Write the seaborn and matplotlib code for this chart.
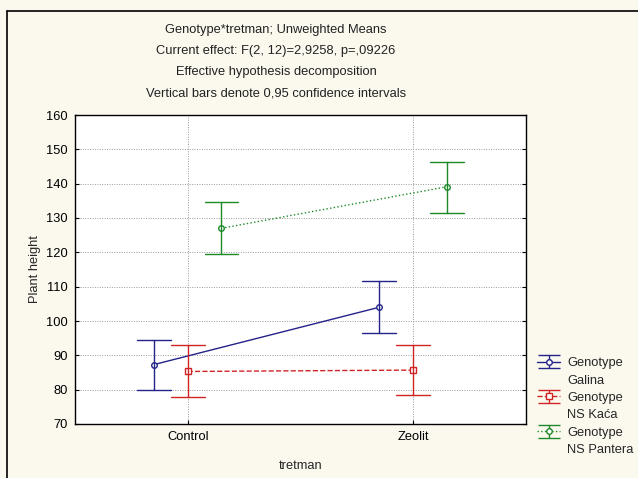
import numpy as np
import pandas as pd
import seaborn as sns
import matplotlib.pyplot as plt
from matplotlib.lines import Line2D
from matplotlib.legend_handler import HandlerErrorbar

treatments = ["Control", "Zeolit"]
genotypes = ["Galina", "NS Kaća", "NS Pantera"]

# means and 0.95 CI limits
galina_mean = [87.3, 104.0]
galina_lo = [79.8, 96.4]
galina_hi = [94.6, 111.7]
kaca_mean = [85.3, 85.7]
kaca_lo = [77.9, 78.4]
kaca_hi = [93.1, 93.1]
pantera_mean = [127.0, 139.1]
pantera_lo = [119.4, 131.4]
pantera_hi = [134.7, 146.3]

colors = ["#23238a", "#d02424", "#1d8a2a"]
markers = ["o", "s", "o"]
linestyles = ["-", "--", ":"]
bg = "#fbf8ee"
fs = 9.3

means = {"Galina": galina_mean, "NS Kaća": kaca_mean, "NS Pantera": pantera_mean}
lows = {"Galina": galina_lo, "NS Kaća": kaca_lo, "NS Pantera": pantera_lo}
highs = {"Galina": galina_hi, "NS Kaća": kaca_hi, "NS Pantera": pantera_hi}

# three rows per cell (low, mean, high): median gives the mean, min/max the CI
rows = []
for g in genotypes:
    for i, t in enumerate(treatments):
        for v in (lows[g][i], means[g][i], highs[g][i]):
            rows.append({"Genotype": g, "tretman": t, "Plant height": v})
df = pd.DataFrame(rows)

sns.set_style("white")
plt.rcParams["font.family"] = ["Liberation Sans", "DejaVu Sans"]

fig = plt.figure(figsize=(6.38, 4.78), dpi=100, facecolor=bg)
ax = fig.add_axes([75 / 638, 1 - 424 / 478, 450.7 / 638, 309 / 478])
ax.set_facecolor("white")

sns.pointplot(data=df, x="tretman", y="Plant height", hue="Genotype",
              hue_order=genotypes, order=treatments,
              estimator="median", errorbar=lambda v: (v.min(), v.max()),
              dodge=0.3, palette=colors, markers=markers,
              linestyles=linestyles, capsize=0.15,
              err_kws={"linewidth": 1.0}, linewidth=1.0, markersize=4,
              markeredgewidth=1.0, legend=False, ax=ax)

for ln in ax.lines:
    ln.set_markerfacecolor("white")

ax.set_xlim(-0.5, 1.5)
ax.set_ylim(70, 160)
ax.set_yticks(np.arange(70, 161, 10))
ax.grid(True, linestyle=(0, (1, 1.5)), color="#9a9a9a", linewidth=0.7)
ax.set_axisbelow(True)
for s in ax.spines.values():
    s.set_color("black")
    s.set_linewidth(1.0)
ax.tick_params(direction="in", length=3, left=True, right=True, bottom=True,
               labelsize=fs, colors="black", pad=5)
ax.set_xlabel("tretman", fontsize=fs, labelpad=12)
ax.set_ylabel("Plant height", fontsize=fs, labelpad=4)

title_lines = ["Genotype*tretman; Unweighted Means",
               "Current effect: F(2, 12)=2,9258, p=,09226",
               "Effective hypothesis decomposition",
               "Vertical bars denote 0,95 confidence intervals"]
for k, txt in enumerate(title_lines):
    fig.text(276 / 638, 1 - (30 + 21 * k) / 478, txt, ha="center", va="center",
             fontsize=fs, color="#222222")

# legend: errorbar glyph on the "Genotype" line, name on the line below
handles, labels = [], []
blank = Line2D([], [], linestyle="none", marker="none")
for g, c, m, ls in zip(genotypes, colors, markers, linestyles):
    h = ax.errorbar([np.nan], [np.nan], yerr=[[np.nan], [np.nan]], color=c,
                    marker=m, linestyle=ls, mfc="white", markersize=4,
                    capsize=8, linewidth=1.0, elinewidth=1.0)
    handles += [h, blank]
    labels += ["Genotype", g]
ax.legend(handles, labels, loc="upper left",
          bbox_to_anchor=(537 / 638, 1 - 357 / 478),
          bbox_transform=fig.transFigure, frameon=False, fontsize=fs,
          handlelength=1.8, handletextpad=0.55, labelspacing=0.42,
          borderpad=0, borderaxespad=0,
          handler_map={type(handles[0]): HandlerErrorbar(yerr_size=0.5)})

# outer frame lines of the original export
fig.add_artist(Line2D([7 / 638, 7 / 638], [0, 1 - 11 / 478], color="black", lw=1.2))
fig.add_artist(Line2D([7 / 638, 1], [1 - 11 / 478, 1 - 11 / 478], color="black", lw=1.2))

fig.savefig("out.png", dpi=100, facecolor=bg)
